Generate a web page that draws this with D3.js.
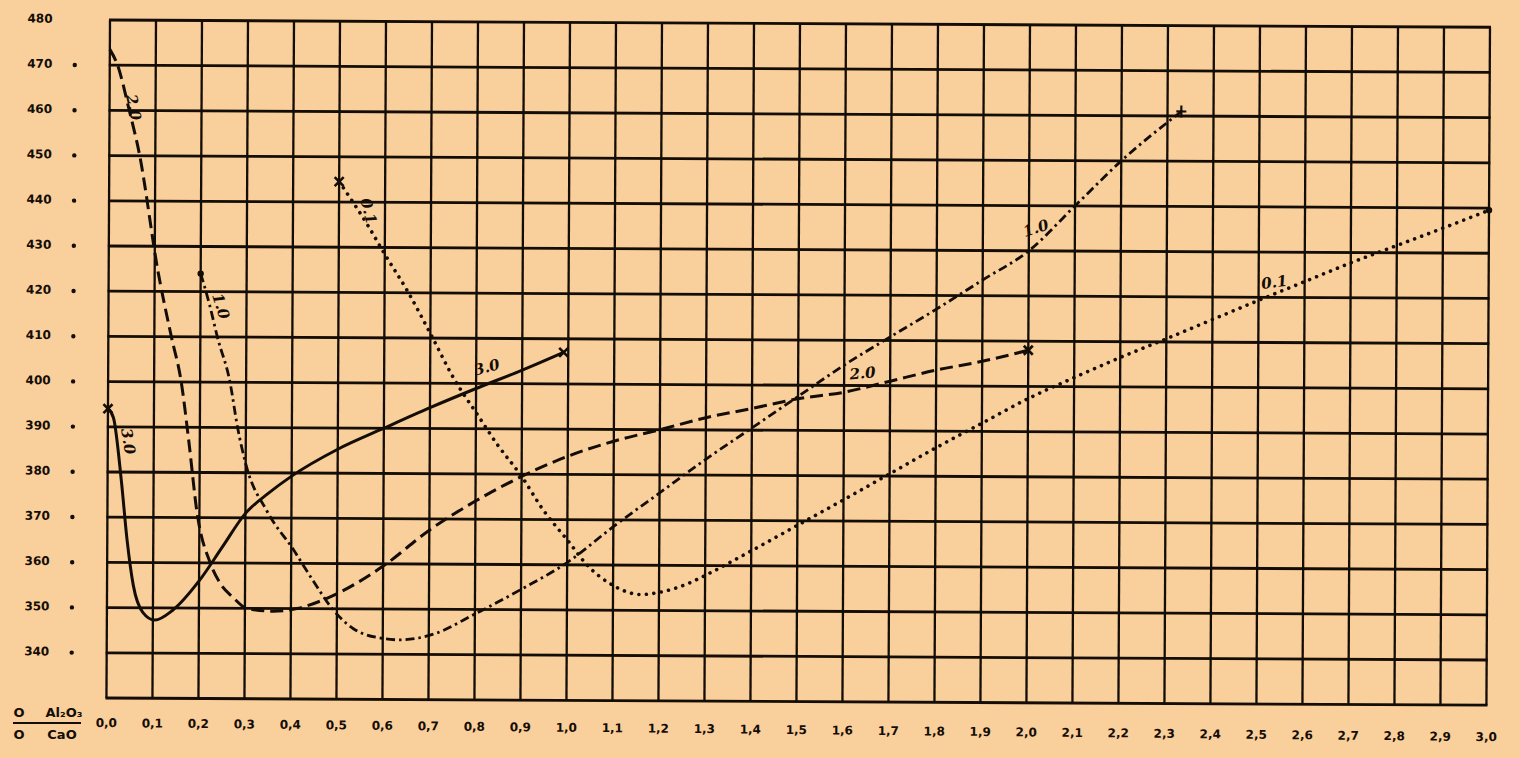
<!DOCTYPE html>
<html><head><meta charset="utf-8">
<script src="https://cdn.jsdelivr.net/npm/d3@7"></script>
<style>
html,body{margin:0;padding:0;background:#F9CF9C;overflow:hidden}
svg{display:block}
</style></head>
<body>
<svg id="chart" width="1520" height="758"></svg>
<script>
// ---- tick values / labels ----
const xTickValues = [0.0,0.1,0.2,0.3,0.4,0.5,0.6,0.7,0.8,0.9,1.0,1.1,1.2,1.3,1.4,1.5,1.6,1.7,1.8,1.9,2.0,2.1,2.2,2.3,2.4,2.5,2.6,2.7,2.8,2.9,3.0];
const xTickLabels = ["0,0","0,1","0,2","0,3","0,4","0,5","0,6","0,7","0,8","0,9","1,0","1,1","1,2","1,3","1,4","1,5","1,6","1,7","1,8","1,9","2,0","2,1","2,2","2,3","2,4","2,5","2,6","2,7","2,8","2,9","3,0"];
const yGridValues = [480,470,460,450,440,430,420,410,400,390,380,370,360,350,340,330];
const yTickLabels = [480,470,460,450,440,430,420,410,400,390,380,370,360,350,340];
const yDotValues  = [470,460,450,440,430,420,410,400,390,380,370,360,350,340];

// ---- series (ratio values, temperatures) ----
const solidX = [0.0,0.012,0.03,0.043,0.057,0.078,0.104,0.143,0.2,0.25,0.3,0.35,0.4,0.5,0.6,0.7,0.8,0.9,0.99];
const solidY = [394,392,378,365,355,349,347.3,349.5,356,363.5,371,375.5,379.3,385.3,390,394.6,398.9,403,407];

const dashedX = [0.0,0.017,0.043,0.065,0.108,0.137,0.159,0.176,0.195,0.224,0.246,0.274,0.304,0.361,0.413,0.478,0.6,0.7,0.8,0.9,1.0,1.1,1.2,1.3,1.4,1.5,1.6,1.7,1.8,1.9,2.0];
const dashedY = [473.5,470,460,450.6,424,410,400,387,371,360,355.5,352.4,350,349.4,350,352.3,359.5,367.5,374,379.5,384,387.4,390,392.7,394.8,397,398.5,401,403.5,405.5,408];

const dashDotX = [0.2,0.22,0.237,0.265,0.282,0.3,0.347,0.405,0.449,0.49,0.536,0.6,0.637,0.71,0.8,0.9,1.0,1.1,1.2,1.3,1.4,1.5,1.6,1.7,1.8,1.9,2.0,2.1,2.2,2.33];
const dashDotY = [424,417,410,400,390,382,371.5,363,356,350,345.6,343.5,343.2,344.5,349,354.5,360.5,368.5,376,383.5,390.5,397.5,404.5,410.8,417,423.5,430,440,450,461];

const dottedX = [0.5,0.565,0.6,0.652,0.7,0.752,0.804,0.847,0.9,0.948,1.0,1.043,1.1,1.16,1.2,1.27,1.3,1.4,1.5,1.6,1.7,1.8,1.9,2.0,2.1,2.2,2.3,2.4,2.5,2.6,2.7,2.8,2.9,3.0];
const dottedY = [444.5,434.5,428.5,420,411,401,393,386.5,379.5,372,365.5,360,355.5,353.5,354,356.3,357.8,363.3,369,374.7,380.5,386.3,391.8,397.3,402,406.5,410.7,415,419.3,423.5,427.7,431.6,435.5,439.5];

// ---- curve labels ----
const labelText = ["3.0","3.0","2.0","2.0","1.0","1.0","0.1","0.1"];
const labelX    = [0.044,0.823,0.052,1.64,0.244,2.015,0.564,2.534];
const labelY    = [386.8,403.6,460.7,402.7,416.8,435,438,423.3];
const labelRot  = [80,-15,78,-5,72,-18,75,-8];

// ---- end markers ----
const markerX    = [0.0,0.99,2.0,0.2,2.33,0.5,3.0];
const markerY    = [394,407,408,424,461,444.5,439.5];
const markerType = ["x","x","x","dot","plus","x","dot"];

// ---- drawing ----
(function(){
const ink = "#140d05";
const W = 1380, H = 678, mLeft = 110, mTop = 20;
const svg = d3.select("#chart");
svg.append("rect").attr("width",1520).attr("height",758).attr("fill","#F9CF9C");

const g = svg.append("g").attr("transform",`translate(${mLeft},${mTop}) rotate(0.3)`);
const x = d3.scaleLinear().domain([0,3]).range([0,W]);
const y = d3.scaleLinear().domain([330,480]).range([H,0]);

// grid
g.selectAll("line.v").data(xTickValues).join("line").attr("class","v")
  .attr("x1",d=>x(d)).attr("x2",d=>x(d)).attr("y1",0).attr("y2",H)
  .attr("stroke",ink).attr("stroke-width",2.3);
g.selectAll("line.h").data(yGridValues).join("line").attr("class","h")
  .attr("x1",-1).attr("x2",W+1).attr("y1",d=>y(d)).attr("y2",d=>y(d))
  .attr("stroke",ink).attr("stroke-width",2.8);

// y labels and dots
g.selectAll("text.yl").data(yTickLabels).join("text").attr("class","yl")
  .attr("x",-70).attr("y",d=>y(d)-1)
  .attr("text-anchor","middle").attr("dominant-baseline","central")
  .attr("font-family","DejaVu Sans").attr("font-weight","bold").attr("font-size",12)
  .attr("fill",ink).text(d=>d);
g.selectAll("circle.yd").data(yDotValues).join("circle").attr("class","yd")
  .attr("cx",-35).attr("cy",d=>y(d)).attr("r",2.2).attr("fill",ink);

// x labels
g.selectAll("text.xl").data(xTickValues).join("text").attr("class","xl")
  .attr("x",d=>x(d)).attr("y",(d)=>H+25+d*2.3)
  .attr("text-anchor","middle").attr("dominant-baseline","central")
  .attr("font-family","DejaVu Sans").attr("font-weight","bold").attr("font-size",12)
  .attr("fill",ink).text((d,i)=>xTickLabels[i]);

// curves
const lineGen = d3.line().x(d=>x(d[0])).y(d=>y(d[1])).curve(d3.curveMonotoneX);
function draw(xs, ys, dash, width, cap){
  g.append("path").datum(xs.map((v,i)=>[v,ys[i]]))
    .attr("d",lineGen).attr("fill","none").attr("stroke",ink)
    .attr("stroke-width",width).attr("stroke-dasharray",dash)
    .attr("stroke-linecap",cap).attr("stroke-linejoin","round");
}
draw(solidX, solidY, null, 3, "round");
draw(dashedX, dashedY, "13,6", 3, "butt");
draw(dashDotX, dashDotY, "9,4,2.5,4", 2.8, "butt");
draw(dottedX, dottedY, "0.01,7.5", 3.6, "round");

// markers
markerX.forEach((mx,i)=>{
  const px = x(mx), py = y(markerY[i]), t = markerType[i];
  if (t==="x") {
    g.append("path").attr("d",`M${px-4.5},${py-4.5}L${px+4.5},${py+4.5}M${px-4.5},${py+4.5}L${px+4.5},${py-4.5}`)
      .attr("stroke",ink).attr("stroke-width",2.6);
  } else if (t==="plus") {
    g.append("path").attr("d",`M${px-5},${py}L${px+5},${py}M${px},${py-6}L${px},${py+6}`)
      .attr("stroke",ink).attr("stroke-width",2.2);
  } else {
    g.append("circle").attr("cx",px).attr("cy",py).attr("r",3.2).attr("fill",ink);
  }
});

// curve labels
labelText.forEach((t,i)=>{
  const px = x(labelX[i]), py = y(labelY[i]);
  g.append("text").attr("transform",`translate(${px},${py}) rotate(${labelRot[i]})`)
    .attr("text-anchor","middle").attr("dominant-baseline","central")
    .attr("font-family","DejaVu Serif").attr("font-style","italic").attr("font-weight","bold")
    .attr("font-size",15).attr("fill",ink).text(t);
});

// axis title (fraction)
const tt = svg.append("g").attr("font-family","DejaVu Sans").attr("font-weight","bold")
  .attr("font-size",13).attr("fill",ink);
tt.append("text").attr("x",19).attr("y",712).attr("text-anchor","middle").attr("dominant-baseline","central").text("O");
tt.append("text").attr("x",64).attr("y",712).attr("text-anchor","middle").attr("dominant-baseline","central").text("Al₂O₃");
tt.append("line").attr("x1",13).attr("x2",81).attr("y1",723).attr("y2",723).attr("stroke",ink).attr("stroke-width",2);
tt.append("text").attr("x",19).attr("y",734).attr("text-anchor","middle").attr("dominant-baseline","central").text("O");
tt.append("text").attr("x",62).attr("y",734).attr("text-anchor","middle").attr("dominant-baseline","central").text("CaO");
})();
</script>
</body></html>
